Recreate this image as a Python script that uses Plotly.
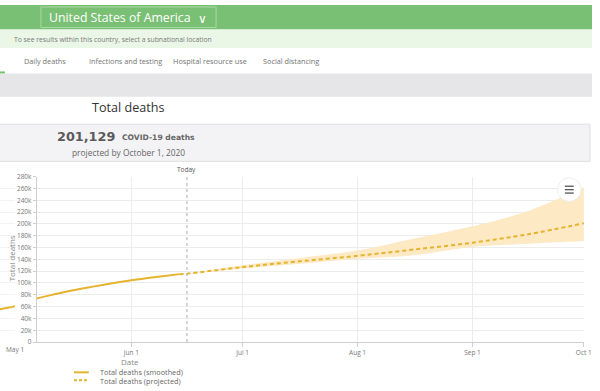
import plotly.graph_objects as go
import pandas as pd

W, H = 600, 391

# ---------------- data ----------------
smoothed_dates = ["2020-04-26", "2020-04-28", "2020-04-30", "2020-05-06", "2020-05-10",
                  "2020-05-15", "2020-05-20", "2020-05-25", "2020-06-01", "2020-06-06",
                  "2020-06-10", "2020-06-14"]
smoothed_vals = [55000, 57300, 59500, 73000, 79000, 86000, 92000, 97500, 104500, 109000,
                 112000, 115000]

proj_dates = ["2020-06-14", "2020-06-16", "2020-07-01", "2020-07-16", "2020-08-01",
              "2020-08-16", "2020-09-01", "2020-09-16", "2020-10-01"]
proj_mean = [115000, 115800, 126900, 136500, 146000, 156500, 168200, 182500, 201129]
proj_upper = [115000, 116000, 130000, 142000, 155000, 175000, 196000, 222000, 262000]
proj_lower = [115000, 115600, 124500, 132000, 141000, 147000, 161000, 166500, 171000]

today = "2020-06-16"
y_ticks = list(range(0, 280001, 20000))
y_tick_labels = ["0"] + [f"{v // 1000}k" for v in y_ticks[1:]]
x_ticks = ["2020-06-01", "2020-07-01", "2020-08-01", "2020-09-01", "2020-10-01"]
x_tick_labels = ["Jun 1", "Jul 1", "Aug 1", "Sep 1", "Oct 1"]

headline_value = "201,129"
legend_names = ["Total deaths (smoothed)", "Total deaths (projected)"]

# ---------------- style ----------------
GOLD = "#e6b32e"
BAND = "#fde9c4"
GRID = "#ececec"
AXIS = "#cfcfcf"
FONT = "Open Sans"


def px(x):
    return x / W


def py(y):
    return 1 - y / H


# pixel geometry of the plot
PLOT_L, PLOT_R = 37.3, 592.0
PLOT_T, PLOT_B = 175.7, 345.0
PX_PER_DAY = 3.761
oct1 = pd.Timestamp("2020-10-01")
x_start = oct1 - pd.Timedelta(days=(PLOT_R - PLOT_L) / PX_PER_DAY)
x_end = oct1 + pd.Timedelta(hours=2)
left_start = oct1 - pd.Timedelta(days=(PLOT_R - 0) / PX_PER_DAY)
left_end = left_start + pd.Timedelta(days=15 / PX_PER_DAY)

fig = go.Figure()

fig.add_trace(go.Scatter(x=proj_dates, y=proj_upper, mode="lines", line=dict(width=0, shape="spline"),
                         showlegend=False, hoverinfo="skip"))
fig.add_trace(go.Scatter(x=proj_dates, y=proj_lower, mode="lines", line=dict(width=0, shape="spline"),
                         fill="tonexty", fillcolor=BAND, showlegend=False, hoverinfo="skip"))
fig.add_trace(go.Scatter(x=smoothed_dates, y=smoothed_vals, mode="lines", name=legend_names[0],
                         line=dict(color=GOLD, width=2, shape="spline"), showlegend=False))
fig.add_trace(go.Scatter(x=proj_dates, y=proj_mean, mode="lines", name=legend_names[1],
                         line=dict(color=GOLD, width=2, dash="4px,3px", shape="spline"),
                         showlegend=False))
# left scrolled sliver of the same chart
fig.add_trace(go.Scatter(x=smoothed_dates, y=smoothed_vals, mode="lines", xaxis="x2", yaxis="y2",
                         line=dict(color=GOLD, width=2, shape="spline"), showlegend=False,
                         hoverinfo="skip"))

tickfont = dict(family=FONT, size=6.5, color="#777")

fig.update_layout(
    width=W, height=H,
    margin=dict(l=0, r=0, t=0, b=0),
    paper_bgcolor="white", plot_bgcolor="rgba(0,0,0,0)",
    showlegend=False,
    xaxis=dict(domain=[px(PLOT_L), px(PLOT_R)], range=[x_start, x_end], type="date",
               tickvals=x_ticks, ticktext=x_tick_labels, tickfont=tickfont,
               showgrid=True, gridcolor=GRID, gridwidth=1,
               showline=True, linecolor=AXIS, ticks="outside", ticklen=4, tickcolor=AXIS,
               zeroline=False, anchor="y", fixedrange=True),
    yaxis=dict(domain=[py(PLOT_B), py(PLOT_T)], range=[0, 280000],
               tickvals=y_ticks, ticktext=y_tick_labels, tickfont=tickfont,
               showgrid=True, gridcolor=GRID, gridwidth=1,
               showline=True, linecolor=AXIS, ticks="outside", ticklen=3, tickcolor=AXIS,
               zeroline=False, anchor="x"),
    xaxis2=dict(domain=[0, px(15)], range=[left_start, left_end], type="date",
                showticklabels=False, showgrid=False, showline=False, zeroline=False,
                anchor="y2"),
    yaxis2=dict(domain=[py(PLOT_B), py(PLOT_T)], range=[0, 280000], tickvals=y_ticks,
                showticklabels=False, showgrid=True, gridcolor="#f3f3f3", showline=False,
                zeroline=False, anchor="x2"),
)

shapes = []
ann = []

# header bars
shapes.append(dict(type="rect", xref="paper", yref="paper", x0=0, x1=1, y0=py(25), y1=1,
                   fillcolor="#79c074", line=dict(width=0), layer="below"))
shapes.append(dict(type="rect", xref="paper", yref="paper", x0=0, x1=1, y0=py(44), y1=py(25),
                   fillcolor="#eaf6e6", line=dict(width=0), layer="below"))
shapes.append(dict(type="rect", xref="paper", yref="paper", x0=px(41.5), x1=px(219), y0=py(23), y1=py(2),
                   fillcolor="rgba(255,255,255,0)", line=dict(width=1, color="#a9d9a5"), layer="below"))
shapes.append(dict(type="rect", xref="paper", yref="paper", x0=0, x1=1, y0=py(94), y1=py(70),
                   fillcolor="#e6e6e9", line=dict(width=0), layer="below"))
shapes.append(dict(type="line", xref="paper", yref="paper", x0=0, x1=px(5), y0=py(69), y1=py(69),
                   line=dict(width=2, color="#79c074")))
shapes.append(dict(type="rect", xref="paper", yref="paper", x0=px(-2), x1=px(598), y0=py(160), y1=py(122),
                   fillcolor="#f3f3f6", line=dict(width=1, color="#dedee2"), layer="below"))

ann.append(dict(text="United States of America", x=px(47.5), y=py(12.5), xanchor="left", yanchor="middle",
                font=dict(family=FONT, size=12.3, color="white")))
ann.append(dict(text="∨", x=px(205), y=py(13.5), xanchor="center", yanchor="middle",
                font=dict(family=FONT, size=12, color="white")))
ann.append(dict(text="To see results within this country, select a subnational location",
                x=px(12), y=py(35), xanchor="left", yanchor="middle",
                font=dict(family=FONT, size=6.8, color="#7a7a7a")))
for label, cx in [("Daily deaths", 45.5), ("Infections and testing", 127.5),
                  ("Hospital resource use", 213), ("Social distancing", 295)]:
    ann.append(dict(text=label, x=px(cx), y=py(57), xanchor="center", yanchor="middle",
                    font=dict(family=FONT, size=7.3, color="#737373")))
ann.append(dict(text="Total deaths", x=px(130), y=py(104.5), xanchor="center", yanchor="middle",
                font=dict(family=FONT, size=12.6, color="#333")))
ann.append(dict(text=f"<b>{headline_value}</b>", x=px(119), y=py(134.5), xanchor="right", yanchor="middle",
                font=dict(family="DejaVu Sans", size=12.8, color="#5a5a5a")))
ann.append(dict(text="<b>COVID-19 deaths</b>", x=px(121.5), y=py(136), xanchor="left", yanchor="middle",
                font=dict(family="DejaVu Sans", size=7.6, color="#666")))
ann.append(dict(text="projected by October 1, 2020", x=px(130), y=py(150.5), xanchor="center", yanchor="middle",
                font=dict(family=FONT, size=8.4, color="#666")))

# Today marker
shapes.append(dict(type="line", xref="x", yref="paper", x0=today, x1=today, y0=py(PLOT_B), y1=py(PLOT_T),
                   line=dict(width=1, color="#aaa", dash="dot")))
ann.append(dict(text="Today", xref="x", x=today, y=py(168), xanchor="center", yanchor="middle",
                font=dict(family=FONT, size=6.5, color="#555")))

# axis extras
ann.append(dict(text="Total deaths", x=px(12), y=py(259.5), xanchor="center", yanchor="middle",
                textangle=-90, font=dict(family=FONT, size=8, color="#888")))
ann.append(dict(text="May 1", x=px(15.5), y=py(352.5), xanchor="center", yanchor="middle",
                font=tickfont))
ann.append(dict(text="Date", x=px(132), y=py(364.5), xanchor="center", yanchor="middle",
                font=dict(family=FONT, size=8, color="#888")))

# legend
shapes.append(dict(type="line", xref="paper", yref="paper", x0=px(75), x1=px(90), y0=py(376), y1=py(376),
                   line=dict(width=2, color=GOLD)))
shapes.append(dict(type="line", xref="paper", yref="paper", x0=px(75), x1=px(90), y0=py(384), y1=py(384),
                   line=dict(width=2, color=GOLD, dash="3px,2px")))
ann.append(dict(text=legend_names[0], x=px(99), y=py(376), xanchor="left", yanchor="middle",
                font=dict(family=FONT, size=7.3, color="#666")))
ann.append(dict(text=legend_names[1], x=px(99), y=py(384.5), xanchor="left", yanchor="middle",
                font=dict(family=FONT, size=7.3, color="#666")))

# menu button
shapes.append(dict(type="circle", xref="paper", yref="paper", x0=px(565), x1=px(589), y0=py(201), y1=py(177),
                   fillcolor="white", line=dict(width=1, color="#eeeeee")))
for yy in (185.5, 189, 192.5):
    shapes.append(dict(type="line", xref="paper", yref="paper", x0=px(572.5), x1=px(581.5), y0=py(yy), y1=py(yy),
                       line=dict(width=1.3, color="#555")))

for a in ann:
    a.setdefault("xref", "paper")
    a.setdefault("yref", "paper")
    a["showarrow"] = False

fig.update_layout(shapes=shapes, annotations=ann)

fig.write_html("out.html", config=dict(displayModeBar=False),
               post_script="document.body.style.margin='0';document.body.style.overflow='hidden';")
